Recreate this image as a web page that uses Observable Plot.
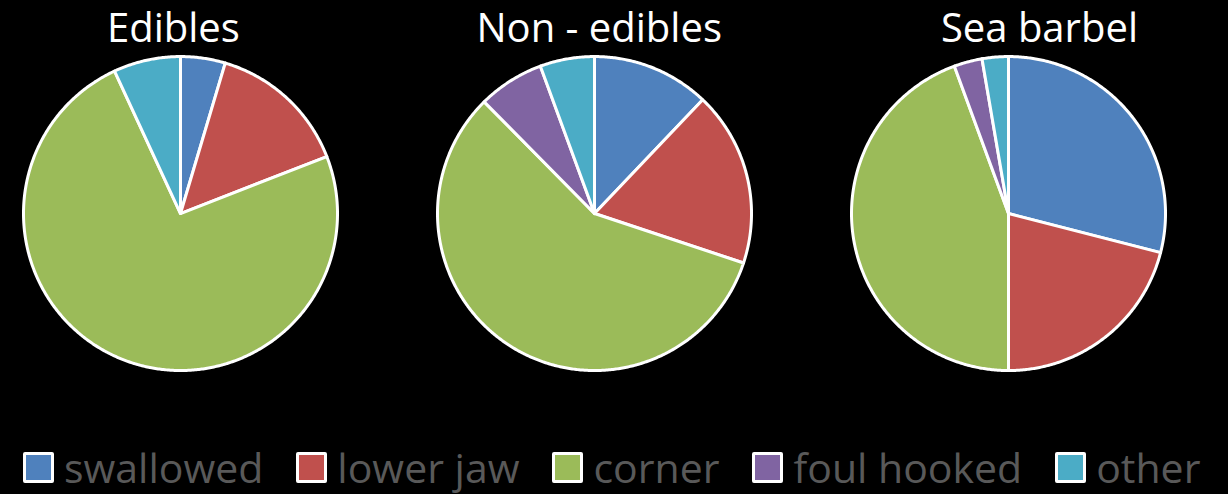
<!DOCTYPE html>
<html>
<head>
<meta charset="utf-8">
<script src="https://cdn.jsdelivr.net/npm/d3@7"></script>
<script src="https://cdn.jsdelivr.net/npm/@observablehq/plot@0.6"></script>
<style>
  html, body { margin: 0; padding: 0; background: #000; overflow: hidden; width: 1228px; height: 494px; }
  #chart { position: absolute; left: 0; top: 0; }
  #chart svg { max-width: none !important; }
  #legend { position: absolute; left: 23px; top: 447px; display: flex; align-items: center; white-space: nowrap;
            font-family: "Open Sans", sans-serif; font-size: 41px; color: #595959; line-height: 1; }
  .item { display: flex; align-items: center; margin-right: 33px; }
  .sw { width: 31px; height: 31px; box-sizing: border-box; border: 3px solid #fff; border-radius: 2px; margin-right: 10px; }
</style>
</head>
<body>
<div id="chart"></div>
<div id="legend"></div>
<script>
// ---- data ----
const charts = ["Edibles", "Non - edibles", "Sea barbel"];
const categories = ["swallowed", "lower jaw", "corner", "foul hooked", "other"];
const edibles = [4.6, 14.5, 74.0, 0, 6.9];
const nonEdibles = [12.1, 18.0, 57.5, 6.8, 5.6];
const seaBarbel = [29.0, 21.0, 44.4, 2.9, 2.7];
const colors = ["#4F81BD", "#C0504D", "#9BBB59", "#8064A2", "#4BACC6"];

// ---- build slice outlines (unit circle, clockwise from 12 o'clock) ----
const seriesByChart = [edibles, nonEdibles, seaBarbel];
const points = [];
charts.forEach((chart, ci) => {
  const rows = categories.map((c, i) => ({category: c, value: seriesByChart[ci][i]})).filter(d => d.value > 0);
  const arcs = d3.pie().sort(null).value(d => d.value)(rows);
  arcs.forEach(a => {
    const cat = a.data.category;
    points.push({chart, category: cat, x: 0, y: 0});
    const n = Math.max(2, Math.ceil((a.endAngle - a.startAngle) / (Math.PI / 360)));
    for (let i = 0; i <= n; i++) {
      const t = a.startAngle + (a.endAngle - a.startAngle) * i / n;
      points.push({chart, category: cat, x: Math.sin(t), y: Math.cos(t)});
    }
    points.push({chart, category: cat, x: 0, y: 0});
  });
});

// layout (title horizontal nudges, in pie radii)
const titleShift = {"Edibles": -0.045, "Non - edibles": 0.03, "Sea barbel": 0.197};

const plot = Plot.plot({
  width: 1242,
  height: 430,
  marginTop: 0, marginBottom: 0, marginLeft: 0, marginRight: 0,
  style: {background: "#000", fontFamily: "'Open Sans', sans-serif", maxWidth: "none"},
  x: {domain: [-1.1465, 1.4904], axis: null},
  y: {domain: [-1.382, 1.357], axis: null},
  fx: {domain: charts, padding: 0, axis: null},
  color: {domain: categories, range: colors},
  marks: [
    Plot.line(points, {fx: "chart", x: "x", y: "y", z: "category", fill: "category",
      stroke: "white", strokeWidth: 3, strokeLinejoin: "round"}),
    Plot.text(charts, {fx: d => d, x: d => titleShift[d], y: 1.09, text: d => d,
      fill: "white", fontSize: 40, lineAnchor: "bottom", textAnchor: "middle"})
  ]
});
plot.style.maxWidth = "none";
document.getElementById("chart").appendChild(plot);

// legend
const legend = d3.select("#legend");
categories.forEach((c, i) => {
  const it = legend.append("div").attr("class", "item");
  it.append("span").attr("class", "sw").style("background", colors[i]);
  it.append("span").text(c);
});
</script>
</body>
</html>
